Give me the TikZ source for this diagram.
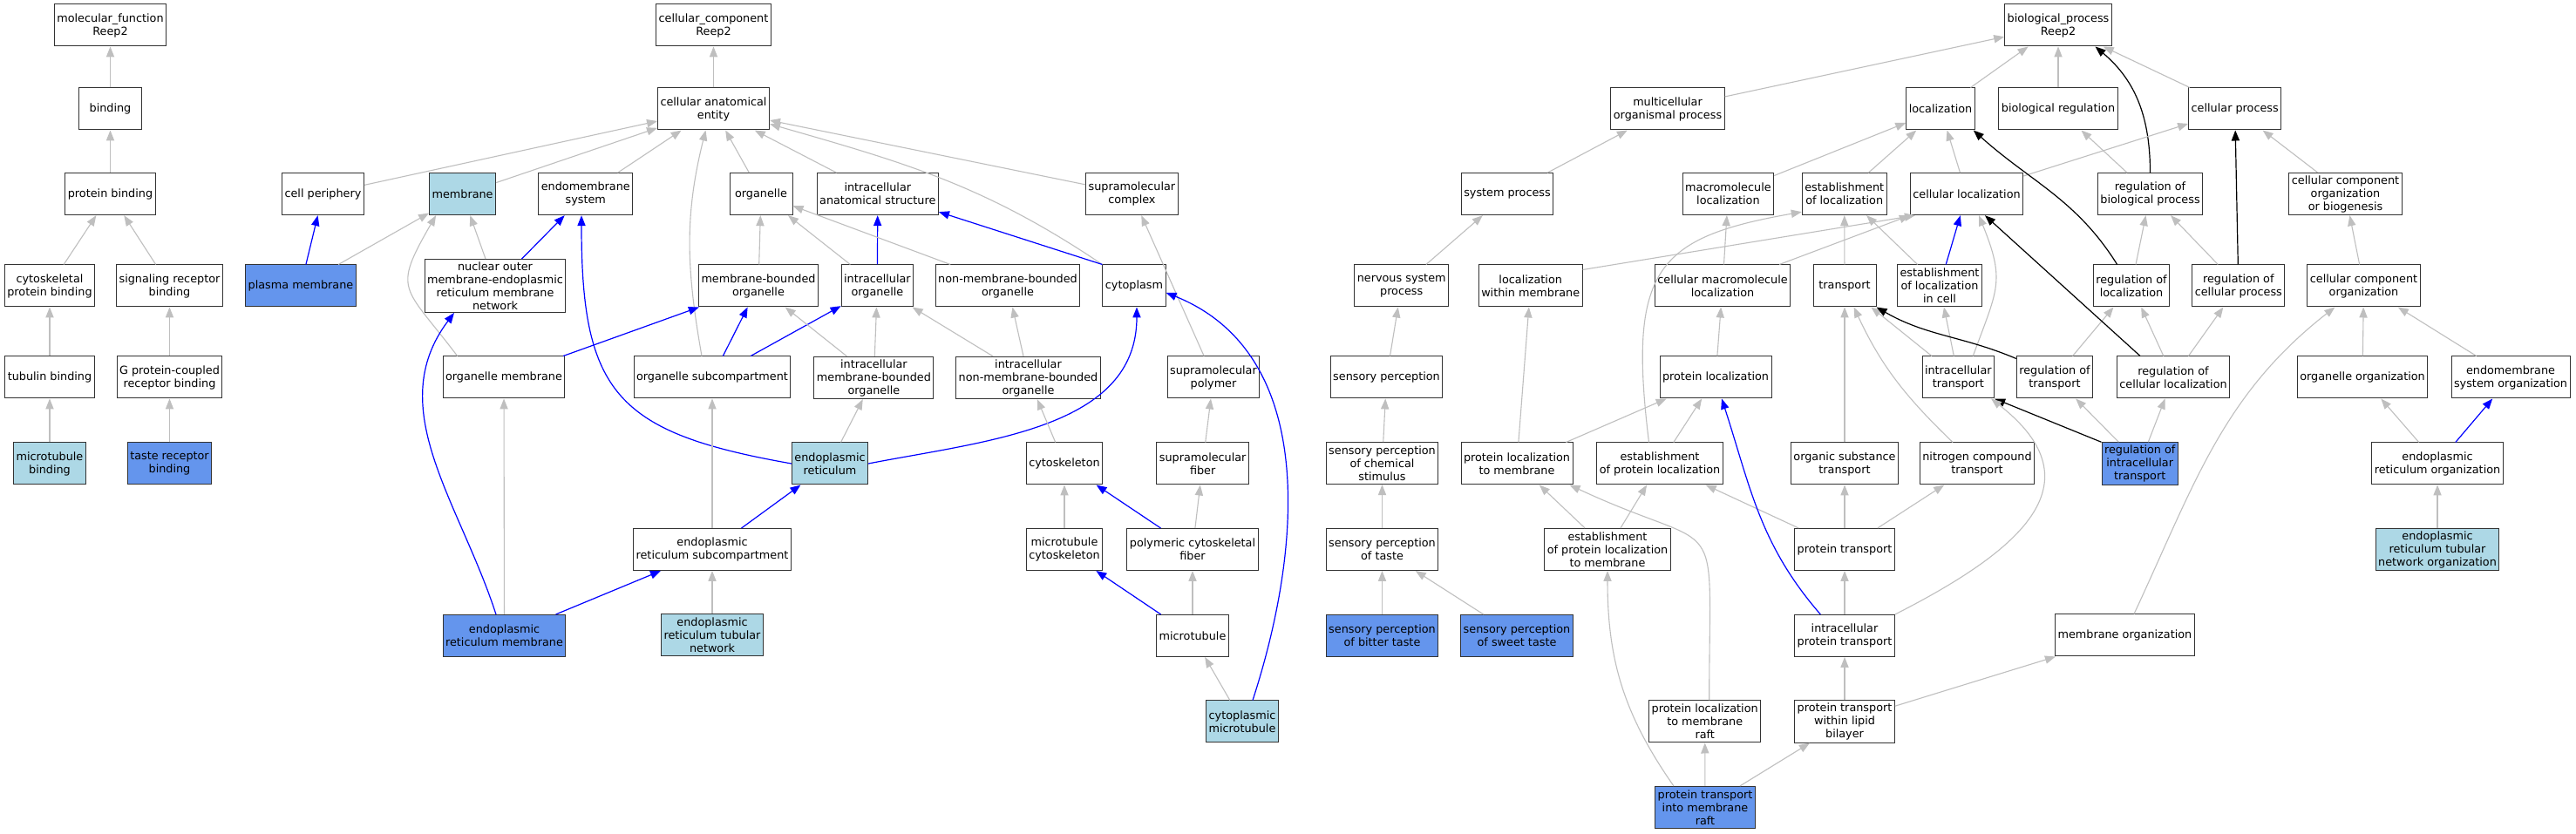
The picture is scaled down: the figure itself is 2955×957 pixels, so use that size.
\documentclass[tikz,border=0pt]{standalone}
\usepackage{fontspec}
\setmainfont{DejaVu Sans}
\usetikzlibrary{arrows.meta}
\definecolor{edgegray}{rgb}{0.75,0.75,0.75}
\definecolor{hitblue}{rgb}{0.678,0.847,0.902}
\definecolor{annblue}{rgb}{0.392,0.584,0.929}
\begin{document}
\begin{tikzpicture}[x=0.5pt, y=0.5pt,
        term/.style={draw=black!80, line width=0.5pt, fill=white, align=center, font=\fontsize{6.4pt}{7.5pt}\selectfont, minimum width=36pt, minimum height=24pt, inner xsep=1.5pt, inner ysep=1.5pt},
        hit/.style={term, fill=hitblue},
        ann/.style={term, fill=annblue},
        isa/.style={draw=edgegray, line width=0.55pt, -{Triangle[length=6pt, width=4.6pt]}},
        part/.style={draw=blue, line width=0.6pt, -{Triangle[length=6pt, width=4.6pt]}},
        reg/.style={draw=black, line width=0.6pt, -{Triangle[length=6pt, width=4.6pt]}}]
        \fill[white] (0,0) rectangle (2955,957);
        \useasboundingbox (0,0) rectangle (2955,957);

        \node[term] (mf) at (126.5,928) {molecular\_function\\Reep2};
        \node[term] (binding) at (126.5,832) {binding};
        \node[term] (pbind) at (126.5,734.3) {protein binding};
        \node[term] (cpb) at (57,629) {cytoskeletal\\protein binding};
        \node[term] (srb) at (194.5,629) {signaling receptor\\binding};
        \node[term] (tubb) at (57,524) {tubulin binding};
        \node[term] (gpcr) at (194.5,524) {G protein-coupled\\receptor binding};
        \node[hit] (mtb) at (57,425) {microtubule\\binding};
        \node[ann] (trb) at (194.5,425) {taste receptor\\binding};

        \node[term] (cc) at (818.5,928) {cellular\_component\\Reep2};
        \node[term] (cae) at (818.5,832) {cellular anatomical\\entity};
        \node[term] (cellper) at (370.5,734.3) {cell periphery};
        \node[hit] (membr) at (530.6,734.3) {membrane};
        \node[term] (endo) at (671.8,734.3) {endomembrane\\system};
        \node[term] (organelle) at (873,734.3) {organelle};
        \node[term] (ias) at (1006.8,734.3) {intracellular\\anatomical structure};
        \node[term] (smc) at (1298.4,734.3) {supramolecular\\complex};
        \node[ann] (pm) at (345,629) {plasma membrane};
        \node[term] (nomn) at (568,629) {nuclear outer\\membrane-endoplasmic\\reticulum membrane\\network};
        \node[term] (mbo) at (870,629) {membrane-bounded\\organelle};
        \node[term] (io) at (1006.4,629) {intracellular\\organelle};
        \node[term] (nmbo) at (1156,629) {non-membrane-bounded\\organelle};
        \node[term] (cyto) at (1301,629) {cytoplasm};
        \node[term] (orgmem) at (578,524) {organelle membrane};
        \node[term] (osc) at (817,524) {organelle subcompartment};
        \node[term] (imbo) at (1002.4,523.5) {intracellular\\membrane-bounded\\organelle};
        \node[term] (inmbo) at (1179.5,523.5) {intracellular\\non-membrane-bounded\\organelle};
        \node[term] (smp) at (1392,524) {supramolecular\\polymer};
        \node[hit] (er) at (952,425) {endoplasmic\\reticulum};
        \node[term] (cytosk) at (1221,425) {cytoskeleton};
        \node[term] (smf) at (1379.7,425) {supramolecular\\fiber};
        \node[term] (ersc) at (817,326.5) {endoplasmic\\reticulum subcompartment};
        \node[term] (mtcs) at (1221,326.5) {microtubule\\cytoskeleton};
        \node[term] (pcf) at (1368,326.5) {polymeric cytoskeletal\\fiber};
        \node[ann] (erm) at (578.5,227.5) {endoplasmic\\reticulum membrane};
        \node[hit] (ertn) at (817,228) {endoplasmic\\reticulum tubular\\network};
        \node[term] (mt) at (1368,227.5) {microtubule};
        \node[hit] (cmt) at (1425,129) {cytoplasmic\\microtubule};

        \node[term] (bp) at (2361,928) {biological\_process\\Reep2};
        \node[term] (mop) at (1913,832) {multicellular\\organismal process};
        \node[term] (loc) at (2226,832) {localization};
        \node[term] (breg) at (2361,832) {biological regulation};
        \node[term] (cproc) at (2563.7,832) {cellular process};
        \node[term] (sysp) at (1729,734.3) {system process};
        \node[term] (mloc) at (1982.4,734.3) {macromolecule\\localization};
        \node[term] (eloc) at (2115.7,734.3) {establishment\\of localization};
        \node[term] (cloc) at (2256,734.3) {cellular localization};
        \node[term] (rbp) at (2466.5,734.3) {regulation of\\biological process};
        \node[term] (ccob) at (2690.5,734.5) {cellular component\\organization\\or biogenesis};
        \node[term] (nsp) at (1607.7,629) {nervous system\\process};
        \node[term] (lwm) at (1755.7,629) {localization\\within membrane};
        \node[term] (cmloc) at (1976,629) {cellular macromolecule\\localization};
        \node[term] (transp) at (2116,629) {transport};
        \node[term] (elocc) at (2225,629) {establishment\\of localization\\in cell};
        \node[term] (rloc) at (2445,629) {regulation of\\localization};
        \node[term] (rcp) at (2567.8,629) {regulation of\\cellular process};
        \node[term] (cco) at (2711.5,629) {cellular component\\organization};
        \node[term] (sensp) at (1590.5,524) {sensory perception};
        \node[term] (ploc) at (1968,524) {protein localization};
        \node[term] (itr) at (2246.3,524) {intracellular\\transport};
        \node[term] (rtr) at (2357,524) {regulation of\\transport};
        \node[term] (rcloc) at (2493,524) {regulation of\\cellular localization};
        \node[term] (orgorg) at (2710,524) {organelle organization};
        \node[term] (emsorg) at (2880,524) {endomembrane\\system organization};
        \node[term] (spcs) at (1585.5,425.3) {sensory perception\\of chemical\\stimulus};
        \node[term] (plm) at (1740,425) {protein localization\\to membrane};
        \node[term] (epl) at (1904,425) {establishment\\of protein localization};
        \node[term] (ost) at (2116,425) {organic substance\\transport};
        \node[term] (nct) at (2268,425) {nitrogen compound\\transport};
        \node[ann] (ritr) at (2454.7,425) {regulation of\\intracellular\\transport};
        \node[term] (erorg) at (2796,425) {endoplasmic\\reticulum organization};
        \node[term] (spt) at (1585.5,326.5) {sensory perception\\of taste};
        \node[term] (eplm) at (1844,326.5) {establishment\\of protein localization\\to membrane};
        \node[term] (ptr) at (2116,326.5) {protein transport};
        \node[hit] (ertno) at (2796,326.5) {endoplasmic\\reticulum tubular\\network organization};
        \node[ann] (spbt) at (1585.5,227.5) {sensory perception\\of bitter taste};
        \node[ann] (spst) at (1740,227.5) {sensory perception\\of sweet taste};
        \node[term] (iptr) at (2116,227.5) {intracellular\\protein transport};
        \node[term] (memorg) at (2437.4,228) {membrane organization};
        \node[term] (plmr) at (1955.7,129) {protein localization\\to membrane\\raft};
        \node[term] (ptwlb) at (2116,129) {protein transport\\within lipid\\bilayer};
        \node[ann] (ptimr) at (1956,30.5) {protein transport\\into membrane\\raft};

        \draw[isa] (binding) -- (mf);
        \draw[isa] (pbind) -- (binding);
        \draw[isa] (cpb) -- (pbind);
        \draw[isa] (srb) -- (pbind);
        \draw[isa] (tubb) -- (cpb);
        \draw[isa] (gpcr) -- (srb);
        \draw[isa] (mtb) -- (tubb);
        \draw[isa] (trb) -- (gpcr);

        \draw[isa] (cae) -- (cc);
        \draw[isa] (cellper) -- (cae);
        \draw[isa] (membr) -- (cae);
        \draw[isa] (endo) -- (cae);
        \draw[isa] (organelle) -- (cae);
        \draw[isa] (ias) -- (cae);
        \draw[isa] (smc) -- (cae);
        \draw[isa] (cyto.north west) to[out=146,in=-16] (cae.-15);
        \draw[isa] ([xshift=-6pt]osc.north) to[out=100,in=-104] ([xshift=-4.5pt]cae.south);
        \draw[part] (pm) -- (cellper);
        \draw[isa] (pm) -- (membr);
        \draw[isa] (nomn) -- (membr);
        \draw[part] (nomn) -- (endo);
        \draw[isa] ([xshift=-26.7pt]orgmem.north) to[out=127,in=-120,looseness=1.6] ([xshift=4pt]membr.south west);
        \draw[part] (orgmem) -- (mbo);
        \draw[part] ([xshift=-4.75pt]erm.north) to[out=108,in=-127] ([xshift=-23.5pt]nomn.south);
        \draw[isa] (erm) -- (orgmem);
        \draw[part] (erm) -- (ersc);
        \draw[part] (er.west) to[out=170,in=-90,looseness=1.4] ([xshift=-2.4pt]endo.south);
        \draw[isa] (er) -- (imbo);
        \draw[part] (er.east) to[out=11,in=-90] ([xshift=1.5pt]cyto.south);
        \draw[part] (ersc) -- (er);
        \draw[isa] (ersc) -- (osc);
        \draw[isa] (ertn) -- (ersc);
        \draw[part] (osc) -- (mbo);
        \draw[part] (osc) -- (io);
        \draw[isa] (mbo) -- (organelle);
        \draw[isa] (io) -- (organelle);
        \draw[part] (io) -- (ias);
        \draw[isa] (nmbo) -- (organelle);
        \draw[isa] (imbo) -- (mbo);
        \draw[isa] (imbo) -- (io);
        \draw[isa] (inmbo) -- (io);
        \draw[isa] (inmbo) -- (nmbo);
        \draw[part] (cyto.north west) -- ([yshift=2pt]ias.south east);
        \draw[isa] (cytosk) -- (inmbo);
        \draw[isa] (smp) -- (smc);
        \draw[isa] (smf) -- (smp);
        \draw[isa] (mtcs) -- (cytosk);
        \draw[part] (pcf) -- (cytosk);
        \draw[isa] (pcf) -- (smf);
        \draw[part] (mt) -- (mtcs);
        \draw[isa] (mt) -- (pcf);
        \draw[isa] (cmt) -- (mt);
        \draw[part] ([xshift=6pt]cmt.north) to[out=72,in=-22] (cyto.-12);

        \draw[isa] (mop) -- (bp);
        \draw[isa] (loc) -- (bp);
        \draw[isa] (breg) -- (bp);
        \draw[isa] (cproc) -- (bp);
        \draw[reg] (rbp.north) to[out=90,in=-40] ([xshift=21.25pt]bp.south);
        \draw[isa] (sysp) -- (mop);
        \draw[isa] (nsp) -- (sysp);
        \draw[isa] (sensp) -- (nsp);
        \draw[isa] (spcs) -- (sensp);
        \draw[isa] (spt) -- (spcs);
        \draw[isa] (spbt) -- (spt);
        \draw[isa] (spst) -- (spt);
        \draw[isa] (mloc) -- (loc);
        \draw[isa] (eloc) -- (loc);
        \draw[isa] (cloc) -- (loc);
        \draw[isa] (cloc) -- (cproc);
        \draw[isa] (rbp) -- (breg);
        \draw[reg] ([xshift=-8.2pt]rloc.north) to[out=122,in=-42] ([xshift=-1pt]loc.south east);
        \draw[isa] (rloc) -- (rbp);
        \draw[isa] (rcp) -- (rbp);
        \draw[reg] (rcp) -- (cproc);
        \draw[isa] (ccob) -- (cproc);
        \draw[isa] (cco) -- (ccob);
        \draw[isa] (orgorg) -- (cco);
        \draw[isa] (emsorg) -- (cco);
        \draw[isa] ([xshift=5.3pt]memorg.north) to[out=65,in=-142] ([xshift=16pt]cco.south west);
        \draw[isa] (erorg) -- (orgorg);
        \draw[part] (erorg) -- (emsorg);
        \draw[isa] (ertno) -- (erorg);
        \draw[isa] ([yshift=-3pt]lwm.north east) -- ([xshift=3pt]cloc.south west);
        \draw[isa] (cmloc) -- (mloc);
        \draw[isa] (cmloc) -- (cloc);
        \draw[isa] (transp) -- (eloc);
        \draw[isa] (elocc) -- (eloc);
        \draw[part] (elocc) -- (cloc);
        \draw[isa] (ploc) -- (cmloc);
        \draw[isa] (itr) -- (transp);
        \draw[isa] (itr) -- (elocc);
        \draw[isa] ([xshift=8.5pt]itr.north) to[out=70,in=-68,looseness=1.3] ([xshift=7pt]cloc.south);
        \draw[reg] ([yshift=-1.5pt]rtr.north west) to[out=157,in=-30] (transp.south east);
        \draw[isa] (rtr) -- (rloc);
        \draw[reg] ([xshift=-19pt]rcloc.north) -- ([xshift=10.5pt]cloc.south);
        \draw[isa] (rcloc) -- (rloc);
        \draw[isa] (rcloc) -- (rcp);
        \draw[reg] (ritr.north west) -- (itr.south east);
        \draw[isa] (ritr) -- (rtr);
        \draw[isa] (ritr) -- (rcloc);
        \draw[isa] (epl) -- (ploc);
        \draw[isa] ([xshift=-6.25pt]epl.north) .. controls +(97:100pt) and +(190:85pt) .. ([yshift=2pt]eloc.south west);
        \draw[isa] (plm) -- (ploc);
        \draw[isa] (plm) -- (lwm);
        \draw[isa] (eplm) -- (plm);
        \draw[isa] (eplm) -- (epl);
        \draw[isa] (ptr) -- (epl);
        \draw[isa] (ptr) -- (ost);
        \draw[isa] (ptr) -- (nct);
        \draw[isa] (ost) -- (transp);
        \draw[isa] ([xshift=-14pt]nct.north) to[out=136,in=-65] ([xshift=5.3pt]transp.south);
        \draw[isa] (iptr) -- (ptr);
        \draw[part] ([xshift=-13.85pt]iptr.north) to[out=131,in=-72] ([xshift=3.5pt]ploc.south);
        \draw[isa] (iptr.north east) to[out=27,in=-38,looseness=1.5] ([xshift=-2pt]itr.south east);
        \draw[isa] (ptwlb) -- (iptr);
        \draw[isa] (ptwlb) -- (memorg);
        \draw[isa] ([xshift=2.5pt]plmr.north) .. controls +(90:115pt) and +(-25:100pt) .. ([xshift=-2pt]plm.south east);
        \draw[isa] (ptimr) -- (plmr);
        \draw[isa] (ptimr) -- (ptwlb);
        \draw[isa] ([xshift=-18pt]ptimr.north) to[out=125,in=-90] (eplm.south);
\end{tikzpicture}
\end{document}
